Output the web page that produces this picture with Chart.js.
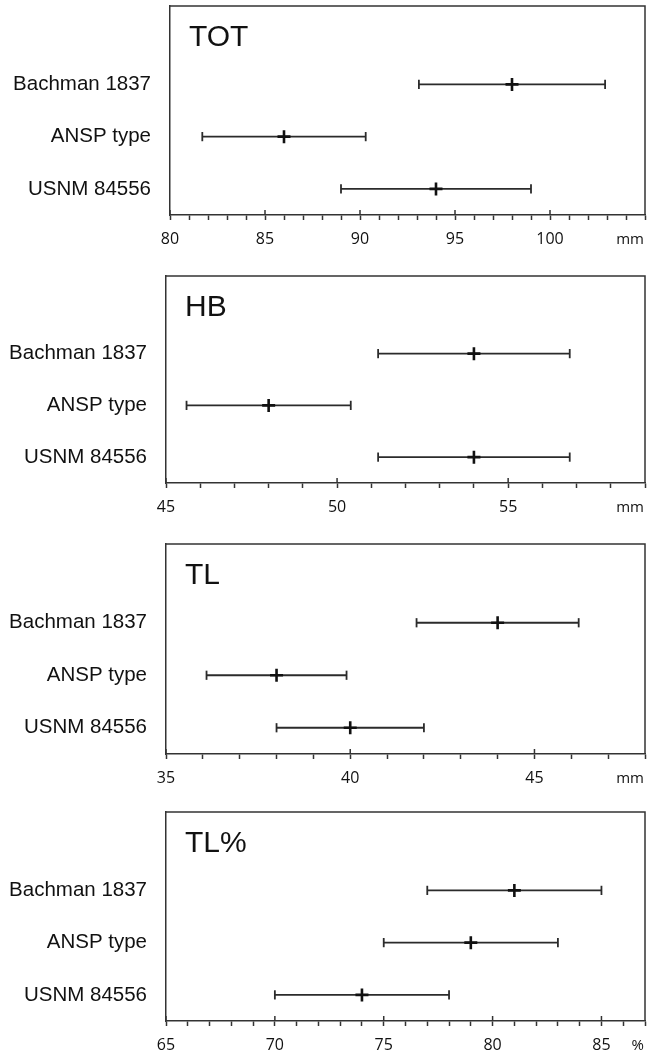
<!DOCTYPE html>
<html>
<head>
<meta charset="utf-8">
<script src="https://cdn.jsdelivr.net/npm/chart.js@4.4.0/dist/chart.umd.min.js"></script>
<style>
  body { margin: 0; background: #fff; }
  canvas { position: absolute; left: 0; }
</style>
</head>
<body>
<canvas id="g-tot" width="647" height="264" style="top:0"></canvas>
<canvas id="g-hb" width="647" height="264" style="top:264px"></canvas>
<canvas id="g-tl" width="647" height="264" style="top:528px"></canvas>
<canvas id="g-tlp" width="647" height="264" style="top:792px"></canvas>
<script>
// specimens, top to bottom
const specimens = ["Bachman 1837", "ANSP type", "USNM 84556"];
const rows = [2, 1, 0];

// TOT (mm)
const totMean = [98, 86, 94];
const totLow = [93.1, 81.7, 89];
const totHigh = [102.9, 90.3, 99];

// HB (mm)
const hbMean = [54, 48, 54];
const hbLow = [51.2, 45.6, 51.2];
const hbHigh = [56.8, 50.4, 56.8];

// TL (mm)
const tlMean = [44, 38, 40];
const tlLow = [41.8, 36.1, 38];
const tlHigh = [46.2, 39.9, 42];

// TL% (%)
const tlpMean = [81, 79, 74];
const tlpLow = [77, 75, 70];
const tlpHigh = [85, 83, 78];

const panels = [
  { id: "g-tot", title: "TOT", unit: "mm", range: [80, 105], mean: totMean, low: totLow, high: totHigh, left: 170, top: 6, below: 49 },
  { id: "g-hb", title: "HB", unit: "mm", range: [45, 59], mean: hbMean, low: hbLow, high: hbHigh, left: 166, top: 12, below: 45 },
  { id: "g-tl", title: "TL", unit: "mm", range: [35, 48], mean: tlMean, low: tlLow, high: tlHigh, left: 166, top: 16, below: 38 },
  { id: "g-tlp", title: "TL%", unit: "%", range: [65, 87], mean: tlpMean, low: tlpLow, high: tlpHigh, left: 166, top: 20, below: 35 }
];

// frame top/right, upper half of major ticks, panel title and unit
const framePlugin = {
  id: "frame",
  afterDraw(chart, args, opts) {
    const { ctx, chartArea: a } = chart;
    const x = chart.scales.x;
    ctx.save();
    ctx.strokeStyle = "#333";
    ctx.lineWidth = 1.5;
    ctx.beginPath();
    ctx.moveTo(a.left, a.top);
    ctx.lineTo(a.right, a.top);
    ctx.lineTo(a.right, a.bottom);
    for (let v = x.min; v <= x.max; v++) {
      if (v % 5 === 0) {
        const px = x.getPixelForValue(v);
        ctx.moveTo(px, a.bottom);
        ctx.lineTo(px, a.bottom - 5);
      }
    }
    ctx.stroke();
    ctx.fillStyle = "#111";
    ctx.font = "30px 'Liberation Sans'";
    ctx.fillText(opts.title, a.left + 19, a.top + 40);
    ctx.font = "15px 'Open Sans'";
    ctx.textAlign = "right";
    ctx.textBaseline = "middle";
    ctx.fillText(opts.unit, a.right - 1, a.bottom + 25);
    ctx.restore();
  }
};

panels.forEach(p => {
  const datasets = [{
    data: p.mean.map((m, i) => ({ x: m, y: rows[i] })),
    pointStyle: "cross",
    pointRadius: 6.5,
    pointBorderColor: "#111",
    pointBorderWidth: 2.6,
    order: 0
  }];
  p.mean.forEach((m, i) => {
    datasets.push({
      data: [{ x: p.low[i], y: rows[i] }, { x: p.high[i], y: rows[i] }],
      showLine: true,
      borderColor: "#2b2b2b",
      borderWidth: 1.8,
      pointStyle: "line",
      pointRotation: 90,
      pointRadius: 4.6,
      pointBorderColor: "#2b2b2b",
      pointBorderWidth: 1.8,
      order: 1
    });
  });

  new Chart(document.getElementById(p.id), {
    type: "scatter",
    data: { datasets },
    options: {
      responsive: false,
      animation: false,
      layout: { autoPadding: false, padding: { top: p.top, right: 2, left: 0, bottom: 0 } },
      plugins: {
        legend: { display: false },
        tooltip: { enabled: false },
        frame: { title: p.title, unit: p.unit }
      },
      scales: {
        x: {
          type: "linear",
          min: p.range[0],
          max: p.range[1],
          afterFit: s => { s.height = p.below; s.paddingLeft = 0; s.paddingRight = 0; },
          border: { color: "#333", width: 1.5 },
          grid: { drawOnChartArea: false, tickLength: 5, tickColor: "#333", tickWidth: 1.5 },
          ticks: {
            stepSize: 1,
            autoSkip: false,
            maxRotation: 0,
            padding: 10,
            color: "#111",
            font: { family: "'Open Sans'", size: 16 },
            callback: v => (v % 5 === 0 && v !== p.range[1]) ? v : ""
          }
        },
        y: {
          type: "linear",
          min: -0.5,
          max: 3.5,
          afterBuildTicks: s => { s.ticks = rows.map(v => ({ value: v })); },
          afterFit: s => { s.width = p.left; s.paddingTop = 0; s.paddingBottom = 0; },
          border: { color: "#333", width: 1.5 },
          grid: { display: false, drawTicks: false },
          ticks: {
            padding: 19,
            color: "#111",
            font: { family: "'Liberation Sans'", size: 20.5 },
            callback: v => specimens[rows.indexOf(v)]
          }
        }
      }
    },
    plugins: [framePlugin]
  });
});
</script>
</body>
</html>
